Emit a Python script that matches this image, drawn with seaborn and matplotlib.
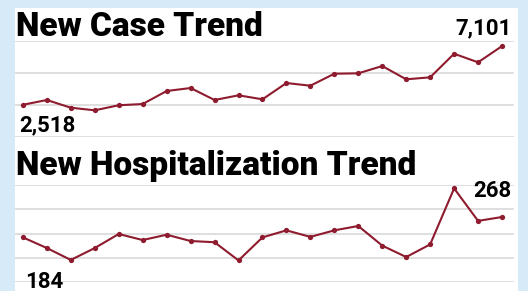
import matplotlib
matplotlib.use("Agg")
import matplotlib.pyplot as plt
import seaborn as sns
import pandas as pd
from matplotlib.patches import Rectangle

sns.set_style("white")
plt.rcParams['font.family'] = ['Roboto', 'DejaVu Sans']

# data
day = list(range(21))
new_cases = [2518, 2890, 2288, 2085, 2480, 2577, 3593, 3827, 2890, 3257, 2944,
             4217, 4007, 4944, 4975, 5545, 4506, 4663, 6506, 5834, 7101]
new_hosp = [184, 140, 91, 140, 198, 173, 195, 169, 164, 89, 184,
            213, 186, 213, 231, 150, 103, 155, 386, 252, 268]
case_ticks = [0, 2500, 5000, 7500]
hosp_ticks = [0, 100, 200, 300, 400]

LINE = "#8e1b2e"
BG = "#d6eaf8"
GRID = "#d9d9d9"

W, H = 528, 291
fig = plt.figure(figsize=(W / 100, H / 100), dpi=100)
fig.patch.set_facecolor(BG)
panel = Rectangle((15 / W, 0), (518 - 15) / W, (H - 8) / H,
                  transform=fig.transFigure, facecolor="white",
                  edgecolor="none", zorder=-10)
fig.patches.append(panel)


def px_axes(left, top, right, bottom):
    return fig.add_axes([left / W, 1 - bottom / H, (right - left) / W, (bottom - top) / H])


def trend(ax, values, ticks, title, title_y, first_off, last_off):
    df = pd.DataFrame({"day": day, "value": values})
    ax.patch.set_alpha(0)
    for t in ticks:
        ax.axhline(t, color=GRID, lw=1.2, zorder=0)
    sns.lineplot(data=df, x="day", y="value", ax=ax, color=LINE, lw=1.5,
                 marker="o", markersize=3.8, markeredgewidth=0, zorder=3)
    ax.set_xlim(-0.33, 20.5)
    ax.set_ylim(ticks[0], ticks[-1])
    ax.set_xticks([])
    ax.set_yticks([])
    ax.set_xlabel("")
    ax.set_ylabel("")
    for s in ax.spines.values():
        s.set_visible(False)
    fig.text(16 / W, 1 - title_y / H, title, fontsize=24, fontweight="black",
             ha="left", va="baseline", color="black")
    ax.annotate(f"{values[0]:,}", (day[0], values[0]), xytext=first_off,
                textcoords="offset pixels", ha="left", va="top", color="black",
                fontsize=16, fontweight="bold", annotation_clip=False)
    ax.annotate(f"{values[-1]:,}", (day[-1], values[-1]), xytext=last_off,
                textcoords="offset pixels", ha="right", va="baseline", color="black",
                fontsize=16, fontweight="bold", annotation_clip=False)


ax1 = px_axes(15, 41, 514, 137)
trend(ax1, new_cases, case_ticks, "New Case Trend", 36, (-4, -10), (10, 12))

ax2 = px_axes(15, 185, 514, 282)
trend(ax2, new_hosp, hosp_ticks, "New Hospitalization Trend", 174.5, (2, -34), (9, 20))

fig.savefig("out.png", dpi=100, facecolor=BG)
